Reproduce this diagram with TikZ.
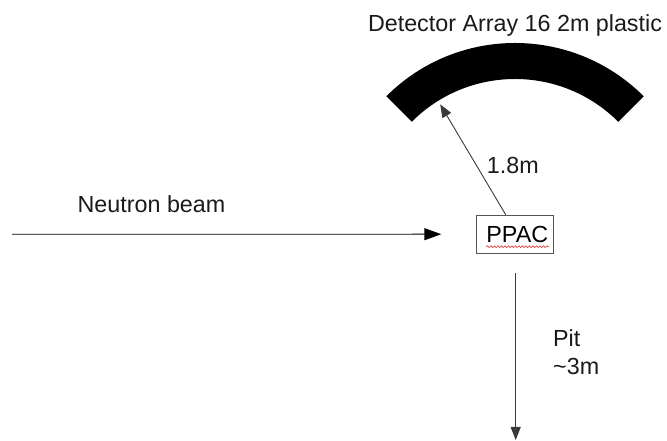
\documentclass[tikz,border=0pt]{standalone}
\usepackage{fontspec}
\setmainfont{Liberation Sans}
\usepackage{xcolor}
\usepackage{tikz}
\usetikzlibrary{arrows.meta,positioning,calc,decorations.pathmorphing}
\definecolor{cink}{HTML}{1A1A1A}
\definecolor{cline}{HTML}{3A3A3A}
\definecolor{cbox}{HTML}{555555}
\definecolor{cspell}{HTML}{E03030}
\tikzset{
  ray/.style={draw=cline,line width=0.9bp,-{Triangle[length=13bp,width=10bp]}},
  lbl/.style={text=cink,inner sep=0pt},
  detbox/.style={draw=cbox,line width=1bp,minimum width=77bp,minimum height=38bp,inner sep=0pt},
}

\begin{document}
\begin{tikzpicture}[x=1bp,y=1bp,font=\fontsize{23.3bp}{28bp}\selectfont]
\useasboundingbox (0,0) rectangle (667,441);

% detector arc
\coordinate (c) at (515,216);
\fill[black] ($(c)+(45:182)$) arc[start angle=45,end angle=135,radius=182]
  -- ($(c)+(135:146)$) arc[start angle=135,end angle=45,radius=146] -- cycle;
\node[lbl,anchor=base] (title) at (515,409.3) {Detector Array 16 2m plastic};

% target
\node[detbox] (ppac) at (515.3,206.8) {\hspace*{4bp}PPAC};
\draw[cspell,line width=0.6bp,decorate,decoration={snake,amplitude=0.9bp,segment length=3.5bp}]
  ([xshift=10bp,yshift=7bp]ppac.south west) -- ([xshift=-5bp,yshift=7bp]ppac.south east);

% beam
\coordinate (src) at (12,206.7);
\draw[ray,draw=black,-{Triangle[length=17bp,width=12bp]}] (src) -- ([xshift=-35bp]ppac.west);
\node[lbl,anchor=base] (beam) at (151.5,228) {Neutron beam};

% flight path
\coordinate (hit) at ($(c)+(121.8:142)$);
\draw[ray] ([xshift=-9.6bp]ppac.north) -- (hit);
\node[lbl,anchor=base west] (dist) at (486.7,267.7) {1.8m};

% pit
\coordinate (floor) at (515.7,1);
\draw[ray] ([xshift=0.4bp,yshift=-19.4bp]ppac.south) -- (floor);
\node[lbl,anchor=base west,align=left] (pit) at (553,66) {Pit\\\textasciitilde3m};

\end{tikzpicture}
\end{document}
